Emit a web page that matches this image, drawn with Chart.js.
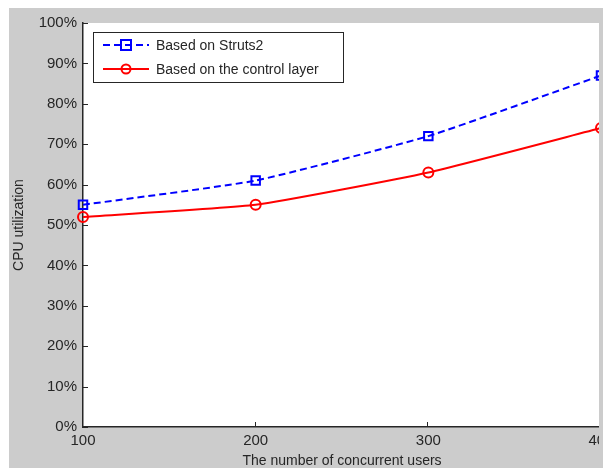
<!DOCTYPE html>
<html>
<head>
<meta charset="utf-8">
<script src="https://cdn.jsdelivr.net/npm/chart.js@4.4.0/dist/chart.umd.min.js"></script>
<style>
    html, body { margin: 0; padding: 0; background: #ffffff; }
    #wrap { position: absolute; left: 9px; top: 8px; width: 594px; height: 460px; background: #cccccc; overflow: hidden; }
    #wrap canvas { position: absolute; left: 0; top: 0; }
    #edge { position: absolute; left: 590px; top: 0; width: 4px; height: 460px; background: #cccccc; }
</style>
</head>
<body>
<div id="wrap"><canvas id="cpu" width="600" height="460"></canvas><div id="edge"></div></div>
<script>
const users = [100, 200, 300, 400];
const struts2 = [55, 61, 72, 87];
const controlLayer = [52, 55, 63, 74];
const yTicks = [0, 10, 20, 30, 40, 50, 60, 70, 80, 90, 100];
const xTicks = [100, 200, 300, 400];

const FONT = 'Arial, "Liberation Sans", sans-serif';
const INK = '#262626';

// white plot area, inward ticks (matlab look), legend inside the axes
const matlabLook = {
    id: 'matlabLook',
    beforeDraw(chart) {
        const a = chart.chartArea;
        const ctx = chart.ctx;
        ctx.save();
        ctx.fillStyle = '#ffffff';
        ctx.fillRect(a.left, a.top, a.right - a.left, a.bottom - a.top);
        ctx.restore();
    },
    afterDatasetsDraw(chart) {
        const a = chart.chartArea;
        const ctx = chart.ctx;
        const xs = chart.scales.x, ys = chart.scales.y;
        ctx.save();
        ctx.strokeStyle = INK;
        ctx.lineWidth = 1;
        ctx.beginPath();
        yTicks.forEach(v => {
            const py = Math.round(ys.getPixelForValue(v)) + 0.5;
            ctx.moveTo(a.left, py);
            ctx.lineTo(a.left + 5, py);
        });
        xTicks.forEach(v => {
            const px = Math.round(xs.getPixelForValue(v)) - 0.5;
            ctx.moveTo(px, a.bottom);
            ctx.lineTo(px, a.bottom - 5);
        });
        ctx.stroke();

        // legend
        const bx = 84, by = 24, bw = 250, bh = 50;
        ctx.fillStyle = '#ffffff';
        ctx.fillRect(bx, by, bw, bh);
        ctx.strokeStyle = INK;
        ctx.strokeRect(bx + 0.5, by + 0.5, bw, bh);
        chart.data.datasets.forEach((ds, i) => {
            const cy = by + 13 + i * 24;
            ctx.strokeStyle = ds.borderColor;
            ctx.lineWidth = 2;
            ctx.setLineDash(ds.borderDash || []);
            ctx.beginPath();
            ctx.moveTo(bx + 10, cy);
            ctx.lineTo(bx + 56, cy);
            ctx.stroke();
            ctx.setLineDash([]);
            ctx.beginPath();
            if (ds.pointStyle === 'rect') {
                ctx.rect(bx + 28, cy - 5, 10, 10);
            } else {
                ctx.arc(bx + 33, cy, 4.5, 0, Math.PI * 2);
            }
            ctx.stroke();
            ctx.fillStyle = INK;
            ctx.font = '14px ' + FONT;
            ctx.textBaseline = 'middle';
            ctx.fillText(ds.label, bx + 63, cy + 1);
        });
        ctx.restore();
    }
};

const ctx = document.getElementById('cpu').getContext('2d');
const myChart = new Chart(ctx, {
    type: 'line',
    data: {
        datasets: [{
            label: 'Based on Struts2',
            data: users.map((u, i) => ({ x: u, y: struts2[i] })),
            borderColor: '#0000ff',
            backgroundColor: 'transparent',
            borderWidth: 2,
            borderDash: [7, 4],
            pointStyle: 'rect',
            pointRadius: 6,
            pointBorderWidth: 2,
            pointBorderColor: '#0000ff',
            pointBackgroundColor: 'transparent',
            tension: 0.15,
            clip: false,
        }, {
            label: 'Based on the control layer',
            data: users.map((u, i) => ({ x: u, y: controlLayer[i] })),
            borderColor: '#ff0000',
            backgroundColor: 'transparent',
            borderWidth: 2,
            pointStyle: 'circle',
            pointRadius: 5,
            pointBorderWidth: 2,
            pointBorderColor: '#ff0000',
            pointBackgroundColor: 'transparent',
            tension: 0.15,
            clip: false,
        }]
    },
    options: {
        responsive: false,
        animation: false,
        events: [],
        layout: { padding: { top: 13, right: 1, left: 0, bottom: 0 } },
        plugins: {
            legend: { display: false },
            tooltip: { enabled: false },
        },
        scales: {
            x: {
                type: 'linear',
                min: 100,
                max: 400,
                afterBuildTicks: scale => { scale.ticks = xTicks.map(v => ({ value: v })); },
                afterFit: scale => { scale.height = 41; scale.paddingRight = 0; scale.paddingLeft = 0; },
                ticks: {
                    color: INK,
                    font: { family: FONT, size: 15 },
                    padding: 5,
                    maxRotation: 0,
                },
                title: {
                    display: true,
                    text: 'The number of concurrent users',
                    color: INK,
                    font: { family: FONT, size: 14 },
                    padding: { top: 0, bottom: -2 },
                },
                grid: { display: false, drawTicks: false },
                border: { display: true, color: INK, width: 1.5 },
            },
            y: {
                min: 0,
                max: 100,
                afterBuildTicks: scale => { scale.ticks = yTicks.map(v => ({ value: v })); },
                afterFit: scale => { scale.width = 74; },
                ticks: {
                    color: INK,
                    font: { family: FONT, size: 15 },
                    padding: 6,
                    callback: value => value + '%',
                },
                title: {
                    display: true,
                    text: 'CPU utilization',
                    color: INK,
                    font: { family: FONT, size: 14 },
                    padding: { top: 2, bottom: 0 },
                },
                grid: { display: false, drawTicks: false },
                border: { display: true, color: INK, width: 1.5 },
            }
        }
    },
    plugins: [matlabLook]
});
</script>
</body>
</html>
